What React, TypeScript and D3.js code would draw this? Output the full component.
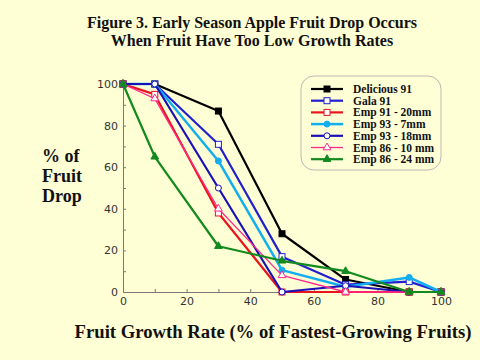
import React, { useEffect, useRef } from 'react';
import * as d3 from 'd3';

// growth rate classes (% of fastest-growing fruits)
const growthRates = [0, 10, 30, 50, 70, 90, 100];

const delicious91 = [100, 100, 87, 28, 6, 0, 0];
const gala91 = [100, 100, 71, 17, 3.5, 5, 0];
const emp91_20 = [100, 95, 38, 0, 0, 0, 0];
const emp93_7 = [100, 100, 63, 10.5, 2.5, 7, 0];
const emp93_18 = [100, 100, 50, 0, 3, 0, 0];
const emp86_10 = [100, 93, 40, 8, 0, 0, 0];
const emp86_24 = [100, 65, 22, 15, 10, 0, 0];

const seriesNames = [
  'Delicious 91',
  'Gala 91',
  'Emp 91 - 20mm',
  'Emp 93 - 7mm',
  'Emp 93 - 18mm',
  'Emp 86 - 10 mm',
  'Emp 86 - 24 mm',
];

const yTicks = [0, 20, 40, 60, 80, 100];
const xTicks = [0, 20, 40, 60, 80, 100];

type Marker = 'square' | 'circle' | 'triangle';

const seriesStyle: { color: string; marker: Marker; filled: boolean; width: number }[] = [
  { color: '#000000', marker: 'square', filled: true, width: 2.2 },
  { color: '#2020d0', marker: 'square', filled: false, width: 2.2 },
  { color: '#e8141e', marker: 'square', filled: false, width: 2.2 },
  { color: '#12aef0', marker: 'circle', filled: true, width: 2.5 },
  { color: '#1a10b8', marker: 'circle', filled: false, width: 2.2 },
  { color: '#ff2a8c', marker: 'triangle', filled: false, width: 1.3 },
  { color: '#128a1e', marker: 'triangle', filled: true, width: 2.2 },
];

const allSeries = [delicious91, gala91, emp91_20, emp93_7, emp93_18, emp86_10, emp86_24];

const App: React.FC = () => {
  const svgRef = useRef<SVGSVGElement>(null);

  useEffect(() => {
    if (!svgRef.current) return;
    const svg = d3.select(svgRef.current);
    svg.selectAll('*').remove();

    const W = 480, H = 360;
    const margin = { top: 84, right: 39, bottom: 68, left: 123 };

    svg.append('rect').attr('width', W).attr('height', H).attr('fill', '#ffffd6');

    // title
    const title = svg.append('text')
      .attr('text-anchor', 'middle')
      .attr('font-family', '"Liberation Serif", "Times New Roman", serif')
      .attr('font-weight', 'bold')
      .attr('font-size', 16)
      .attr('fill', '#111');
    title.append('tspan').attr('x', 252).attr('y', 28).text('Figure 3. Early Season Apple Fruit Drop Occurs');
    title.append('tspan').attr('x', 252).attr('y', 46).text('When Fruit Have Too Low Growth Rates');

    const x = d3.scaleLinear().domain([0, 100]).range([margin.left, W - margin.right]);
    const y = d3.scaleLinear().domain([0, 100]).range([H - margin.bottom, margin.top]);

    const axisColor = '#7a7a7a';
    const tickFont = '"DejaVu Sans", Verdana, sans-serif';

    // x axis
    const gx = svg.append('g').attr('transform', `translate(0,${y(0)})`);
    gx.call(d3.axisBottom(x).tickValues(d3.range(0, 101, 10)).tickSize(-3).tickPadding(5)
      .tickFormat(d => (xTicks.includes(+d) ? String(d) : '')));
    gx.select('.domain').attr('stroke', axisColor);
    gx.selectAll('.tick line').attr('stroke', axisColor);
    gx.selectAll('.tick text').attr('fill', '#333').attr('font-size', 11).attr('font-family', tickFont);

    // y axis
    const gy = svg.append('g').attr('transform', `translate(${x(0)},0)`);
    gy.call(d3.axisLeft(y).tickValues(d3.range(0, 101, 10)).tickSize(-3).tickPadding(5)
      .tickFormat(d => (yTicks.includes(+d) ? String(d) : '')));
    gy.select('.domain').attr('stroke', axisColor);
    gy.selectAll('.tick line').attr('stroke', axisColor);
    gy.selectAll('.tick text').attr('fill', '#333').attr('font-size', 11).attr('font-family', tickFont);

    // axis titles
    const serif = '"Liberation Serif", "Times New Roman", serif';
    const yt = svg.append('text')
      .attr('font-family', serif).attr('font-weight', 'bold').attr('font-size', 18).attr('fill', '#111');
    ['% of', 'Fruit', 'Drop'].forEach((s, i) => {
      yt.append('tspan').attr('x', 42).attr('y', 162 + i * 20).text(s);
    });
    svg.append('text')
      .attr('x', 273).attr('y', 338)
      .attr('text-anchor', 'middle')
      .attr('font-family', serif).attr('font-weight', 'bold').attr('font-size', 18.7).attr('fill', '#111')
      .text('Fruit Growth Rate (% of Fastest-Growing Fruits)');

    const drawMarker = (g: d3.Selection<SVGGElement, unknown, null, undefined>, cx: number, cy: number, i: number) => {
      const st = seriesStyle[i];
      const fill = st.filled ? st.color : '#ffffff';
      if (st.marker === 'square') {
        g.append('rect').attr('x', cx - 3).attr('y', cy - 3).attr('width', 6).attr('height', 6)
          .attr('fill', fill).attr('stroke', st.color).attr('stroke-width', 1);
      } else if (st.marker === 'circle') {
        g.append('circle').attr('cx', cx).attr('cy', cy).attr('r', 3)
          .attr('fill', fill).attr('stroke', st.color).attr('stroke-width', 1);
      } else {
        const sym = d3.symbol().type(d3.symbolTriangle).size(26);
        g.append('path').attr('d', sym()).attr('transform', `translate(${cx},${cy})`)
          .attr('fill', fill).attr('stroke', st.color).attr('stroke-width', 1);
      }
    };

    const line = d3.line<number>().x((_, j) => x(growthRates[j])).y(d => y(d));

    allSeries.forEach((vals, i) => {
      const st = seriesStyle[i];
      const g = svg.append('g');
      g.append('path').attr('d', line(vals)).attr('fill', 'none')
        .attr('stroke', st.color).attr('stroke-width', st.width).attr('stroke-linejoin', 'round');
      vals.forEach((v, j) => drawMarker(g, x(growthRates[j]), y(v), i));
    });

    // legend
    const lg = svg.append('g');
    lg.append('rect').attr('x', 301).attr('y', 76).attr('width', 140).attr('height', 94)
      .attr('rx', 13).attr('fill', 'none').attr('stroke', '#b8b8b8').attr('stroke-width', 1);
    seriesNames.forEach((name, i) => {
      const st = seriesStyle[i];
      const ly = 89 + i * 11.7;
      const row = lg.append('g');
      row.append('line').attr('x1', 311).attr('x2', 343).attr('y1', ly).attr('y2', ly)
        .attr('stroke', st.color).attr('stroke-width', st.width);
      drawMarker(row, 327, ly, i);
      row.append('text').attr('x', 353).attr('y', ly + 4)
        .attr('font-family', serif).attr('font-weight', 'bold').attr('font-size', 11.5).attr('fill', '#111')
        .text(name);
    });
  }, []);

  return (
    <svg ref={svgRef} width={480} height={360}
      style={{ position: 'absolute', left: 0, top: 0, display: 'block' }} />
  );
};

export default App;
